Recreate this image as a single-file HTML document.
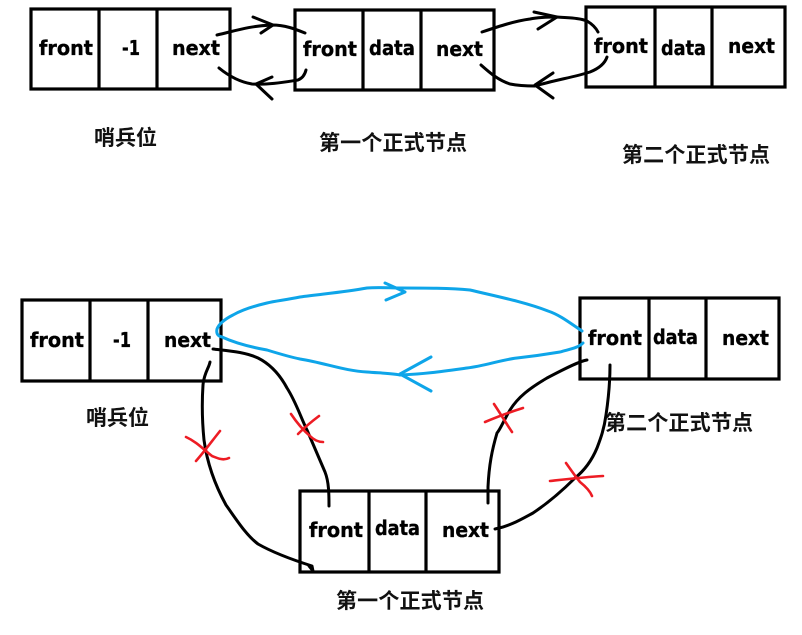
<!DOCTYPE html>
<html>
<head>
<meta charset="utf-8">
<style>
html,body{margin:0;padding:0;background:#fff;width:802px;height:635px;overflow:hidden}
svg{display:block;filter:blur(0.35px)}
.box{fill:none;stroke:#000;stroke-width:3.2}
.d{stroke:#000;stroke-width:3.2}
.t{font-family:"DejaVu Sans","Liberation Sans",sans-serif;font-weight:bold;font-size:20px;fill:#000;stroke:#000;stroke-width:.35}
.c{font-family:"Liberation Sans","Noto Sans CJK SC",sans-serif;font-weight:bold;font-size:21px;fill:#111}
.k{fill:none;stroke:#000;stroke-width:3;stroke-linecap:round;stroke-linejoin:round}
.b{fill:none;stroke:#0ea5e9;stroke-width:3;stroke-linecap:round;stroke-linejoin:round}
.r{fill:none;stroke:#ed1c24;stroke-width:2.6;stroke-linecap:round;stroke-linejoin:round}
</style>
</head>
<body>
<svg width="802" height="635" viewBox="0 0 802 635" xmlns="http://www.w3.org/2000/svg">
<!-- top row boxes -->
<rect class="box" x="31" y="9" width="199" height="80"/><path class="d" d="M99 9V89M157 9V89"/>
<rect class="box" x="295" y="10" width="199" height="80"/><path class="d" d="M363 10V90M421 10V90"/>
<rect class="box" x="586" y="7" width="199" height="80"/><path class="d" d="M655 7V87M712 7V87"/>
<!-- bottom boxes -->
<rect class="box" x="22" y="300" width="199" height="81"/><path class="d" d="M90 300V381M148 300V381"/>
<rect class="box" x="580" y="298" width="199" height="81"/><path class="d" d="M649 298V379M706 298V379"/>
<rect class="box" x="300" y="491" width="199" height="81"/><path class="d" d="M369 491V572M426 491V572"/>
<!-- box labels -->
<text class="t" x="39" y="55" textLength="54" lengthAdjust="spacingAndGlyphs">front</text>
<text class="t" x="122" y="55" textLength="18" lengthAdjust="spacingAndGlyphs">-1</text>
<text class="t" x="172" y="55" textLength="48" lengthAdjust="spacingAndGlyphs">next</text>
<text class="t" x="303" y="56" textLength="54" lengthAdjust="spacingAndGlyphs">front</text>
<text class="t" x="369" y="55" textLength="46" lengthAdjust="spacingAndGlyphs">data</text>
<text class="t" x="436" y="56" textLength="47" lengthAdjust="spacingAndGlyphs">next</text>
<text class="t" x="594" y="53" textLength="54" lengthAdjust="spacingAndGlyphs">front</text>
<text class="t" x="661" y="55" textLength="45" lengthAdjust="spacingAndGlyphs">data</text>
<text class="t" x="728" y="53" textLength="47" lengthAdjust="spacingAndGlyphs">next</text>
<text class="t" x="30" y="347" textLength="54" lengthAdjust="spacingAndGlyphs">front</text>
<text class="t" x="113" y="347" textLength="18" lengthAdjust="spacingAndGlyphs">-1</text>
<text class="t" x="164" y="347" textLength="47" lengthAdjust="spacingAndGlyphs">next</text>
<text class="t" x="588" y="345" textLength="54" lengthAdjust="spacingAndGlyphs">front</text>
<text class="t" x="653" y="344" textLength="45" lengthAdjust="spacingAndGlyphs">data</text>
<text class="t" x="722" y="345" textLength="47" lengthAdjust="spacingAndGlyphs">next</text>
<text class="t" x="309" y="537" textLength="54" lengthAdjust="spacingAndGlyphs">front</text>
<text class="t" x="375" y="535" textLength="45" lengthAdjust="spacingAndGlyphs">data</text>
<text class="t" x="442" y="537" textLength="47" lengthAdjust="spacingAndGlyphs">next</text>
<!-- captions -->
<text class="c" x="94" y="145" textLength="63">哨兵位</text>
<text class="c" x="319" y="150" textLength="148">第一个正式节点</text>
<text class="c" x="622" y="162" textLength="148">第二个正式节点</text>
<text class="c" x="86" y="425" textLength="63">哨兵位</text>
<text class="c" x="605" y="430" textLength="148">第二个正式节点</text>
<text class="c" x="336" y="608" textLength="148">第一个正式节点</text>
<!-- top arrows -->
<path class="k" d="M217 35C235 31 248 26 272 25C285 25 295 29 305 33"/>
<path class="k" d="M253 17L273 25L261 33"/>
<path class="k" d="M219 68C230 77 240 82 252 84C268 85 285 82 298 80C303 78 305 74 306 70"/>
<path class="k" d="M272 77L256 84L272 99"/>
<path class="k" d="M482 32C500 26 515 21 530 19C540 17 550 17 557 17C570 18 580 18 587 21C592 24 596 28 598 32"/>
<path class="k" d="M534 12L557 17L538 29"/>
<path class="k" d="M481 65C490 73 498 80 510 84C520 86 528 86 535 86C555 80 575 77 590 72C600 68 605 63 607 57"/>
<path class="k" d="M553 73L535 85L553 98"/>
<!-- blue loop -->
<path class="b" d="M582 331C570 323 560 315 548 311C525 302 495 296 470 290C450 288 425 288 400 288C390 288 378 287 367 288C345 292 322 294 300 297C285 300 275 301 267 303C250 307 240 311 233 315C225 319 219 324 217 329C216 334 218 336 222 337C235 343 250 347 267 350C280 354 290 357 300 359C325 363 345 371 367 372C378 373 390 373 400 375C425 374 445 371 467 368C485 366 500 360 517 358C535 356 548 354 560 352C570 349 578 348 583 343"/>
<path class="b" d="M385 283L405 292L386 300"/>
<path class="b" d="M431 357L400 374L431 391"/>
<!-- black curves -->
<path class="k" d="M213 349C230 351 245 352 258 358C270 364 280 375 287 388C296 402 301 418 307 430C314 446 320 460 325 472C329 482 329 495 329 506"/>
<path class="k" d="M210 362C209 368 204 373 203 385C202 400 202 420 204 440C207 462 215 485 226 505C236 519 246 535 258 544C272 552 290 559 312 566L313 571L309 566"/>
<path class="k" d="M587 360C580 361 566 368 547 378C530 388 518 397 510 410C504 420 500 430 497 433C492 450 489 465 488 487L488 503"/>
<path class="k" d="M610 365C610 380 609 395 606 415C604 430 600 440 597 448C592 460 585 470 575 478C560 493 548 503 533 513C520 520 510 526 495 529"/>
<!-- red crosses -->
<path class="r" d="M186 437C197 442 204 450 212 456C217 458 223 461 229 458M220 431C212 441 204 452 196 461"/>
<path class="r" d="M291 414C297 423 303 430 310 436C314 440 318 442 323 442M319 416C311 422 304 428 298 434"/>
<path class="r" d="M485 422C497 417 510 412 523 408M494 404C500 413 506 423 512 432"/>
<path class="r" d="M550 481C568 479 585 477 603 476M566 463C571 470 575 476 580 482C585 486 590 491 592 496"/>
</svg>
</body>
</html>
